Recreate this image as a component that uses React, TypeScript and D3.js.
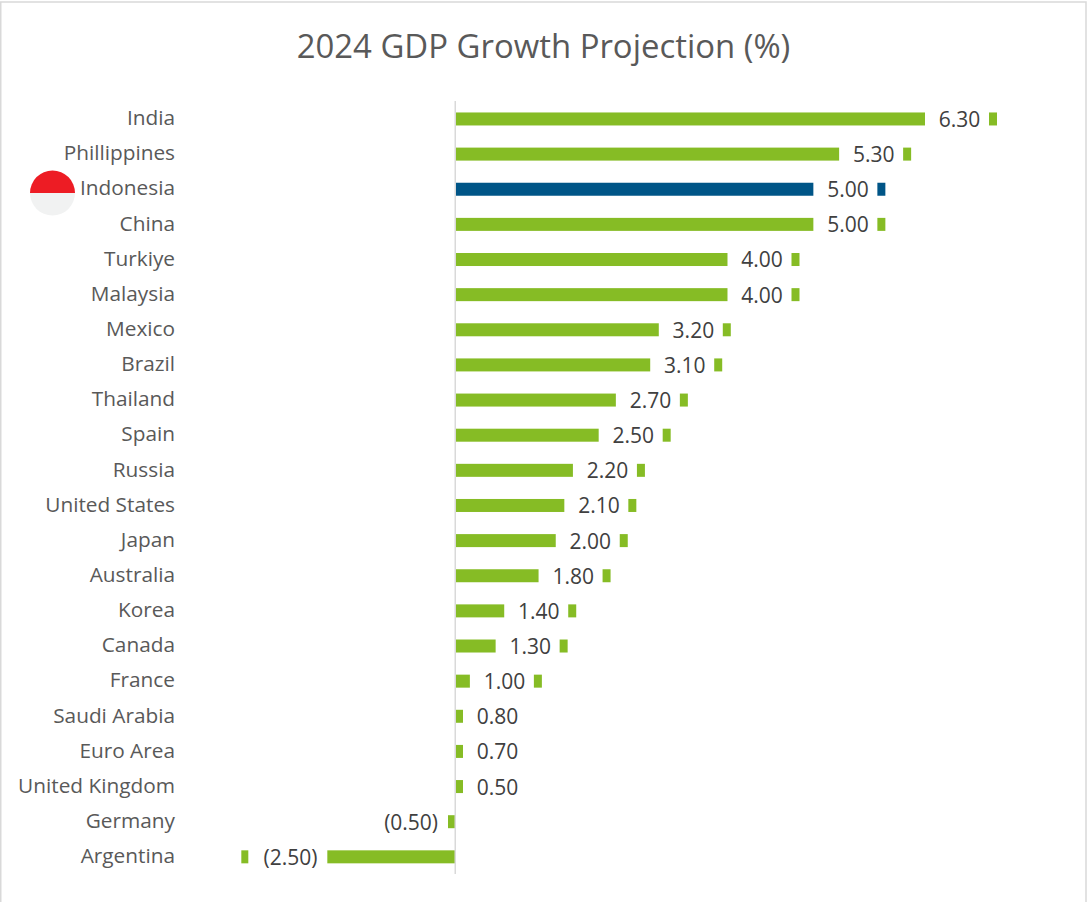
import React from "react";
import * as d3 from "d3";

const countries = [
  "India", "Phillippines", "Indonesia", "China", "Turkiye", "Malaysia", "Mexico",
  "Brazil", "Thailand", "Spain", "Russia", "United States", "Japan", "Australia",
  "Korea", "Canada", "France", "Saudi Arabia", "Euro Area", "United Kingdom",
  "Germany", "Argentina",
];
const growth = [
  6.3, 5.3, 5.0, 5.0, 4.0, 4.0, 3.2, 3.1, 2.7, 2.5, 2.2, 2.1, 2.0, 1.8, 1.4, 1.3,
  1.0, 0.8, 0.7, 0.5, -0.5, -2.5,
];
const highlighted = "Indonesia";

const WIDTH = 1087;
const HEIGHT = 902;
const FONT = "'Open Sans', sans-serif";
const GREEN = "#86bc25";
const BLUE = "#005587";

const x = d3.scaleLinear().domain([0, 6.3]).range([456, 997]);
const y = d3.scaleBand<string>().domain(countries).range([101.4, 874.4]).paddingInner(0.63).paddingOuter(0.315);

const formatValue = (v: number) => {
  const text = d3.format(".2f")(Math.abs(v));
  return v < 0 ? `(${text})` : text;
};

// Value labels sit on a white plate inside the bar end, pushed clear of the axis on short bars.
const plate = (v: number) => {
  const gap = 7;
  if (v >= 0) {
    const w = 64;
    const left = Math.max(x(0) + gap, x(v) - 8 - w);
    return { left, w };
  }
  const w = 79;
  const left = Math.min(x(0) - gap - w - 1, x(v) + 7);
  return { left, w };
};

export default function App() {
  const flagY = 193;
  const flagR = 22.5;
  const flagX = 52.5;
  const upper = d3.arc()({
    innerRadius: 0,
    outerRadius: flagR,
    startAngle: -Math.PI / 2,
    endAngle: Math.PI / 2,
  })!;
  const lower = d3.arc()({
    innerRadius: 0,
    outerRadius: flagR,
    startAngle: Math.PI / 2,
    endAngle: (3 * Math.PI) / 2,
  })!;

  return (
    <svg
      width={WIDTH}
      height={HEIGHT}
      viewBox={`0 0 ${WIDTH} ${HEIGHT}`}
      style={{ position: "absolute", left: 0, top: 0, display: "block", background: "#fff" }}
      fontFamily={FONT}
    >
      <rect x={0.75} y={2} width={1085.25} height={HEIGHT + 10} fill="#fff" stroke="#d9d9d9" strokeWidth={1.5} />

      <text x={543.5} y={58} textAnchor="middle" fontSize={32.9} fill="#595959">
        2024 GDP Growth Projection (%)
      </text>

      <g transform={`translate(${flagX},${flagY})`}>
        <path d={upper} fill="#ed1c24" />
        <path d={lower} fill="#f1f2f2" />
      </g>

      {countries.map((name, i) => {
        const v = growth[i];
        const top = y(name)!;
        const h = y.bandwidth();
        const cy = top + h / 2;
        const p = plate(v);
        return (
          <g key={name}>
            <text x={175} y={cy + 0.4} dy="0.28em" textAnchor="end" fontSize={20.8} fill="#595959">
              {name}
            </text>
            <rect
              x={Math.min(x(0), x(v))}
              y={top}
              width={Math.abs(x(v) - x(0))}
              height={h}
              fill={name === highlighted ? BLUE : GREEN}
            />
            <rect x={p.left} y={top - 3} width={p.w} height={h + 6} fill="#fff" />
            <text
              x={p.left + p.w / 2 + 2.6}
              y={cy + 0.6}
              dy="0.35em"
              textAnchor="middle"
              fontSize={21}
              fill="#404040"
            >
              {formatValue(v)}
            </text>
          </g>
        );
      })}

      <line x1={455.25} x2={455.25} y1={101} y2={874} stroke="#d9d9d9" strokeWidth={1.5} />
    </svg>
  );
}
